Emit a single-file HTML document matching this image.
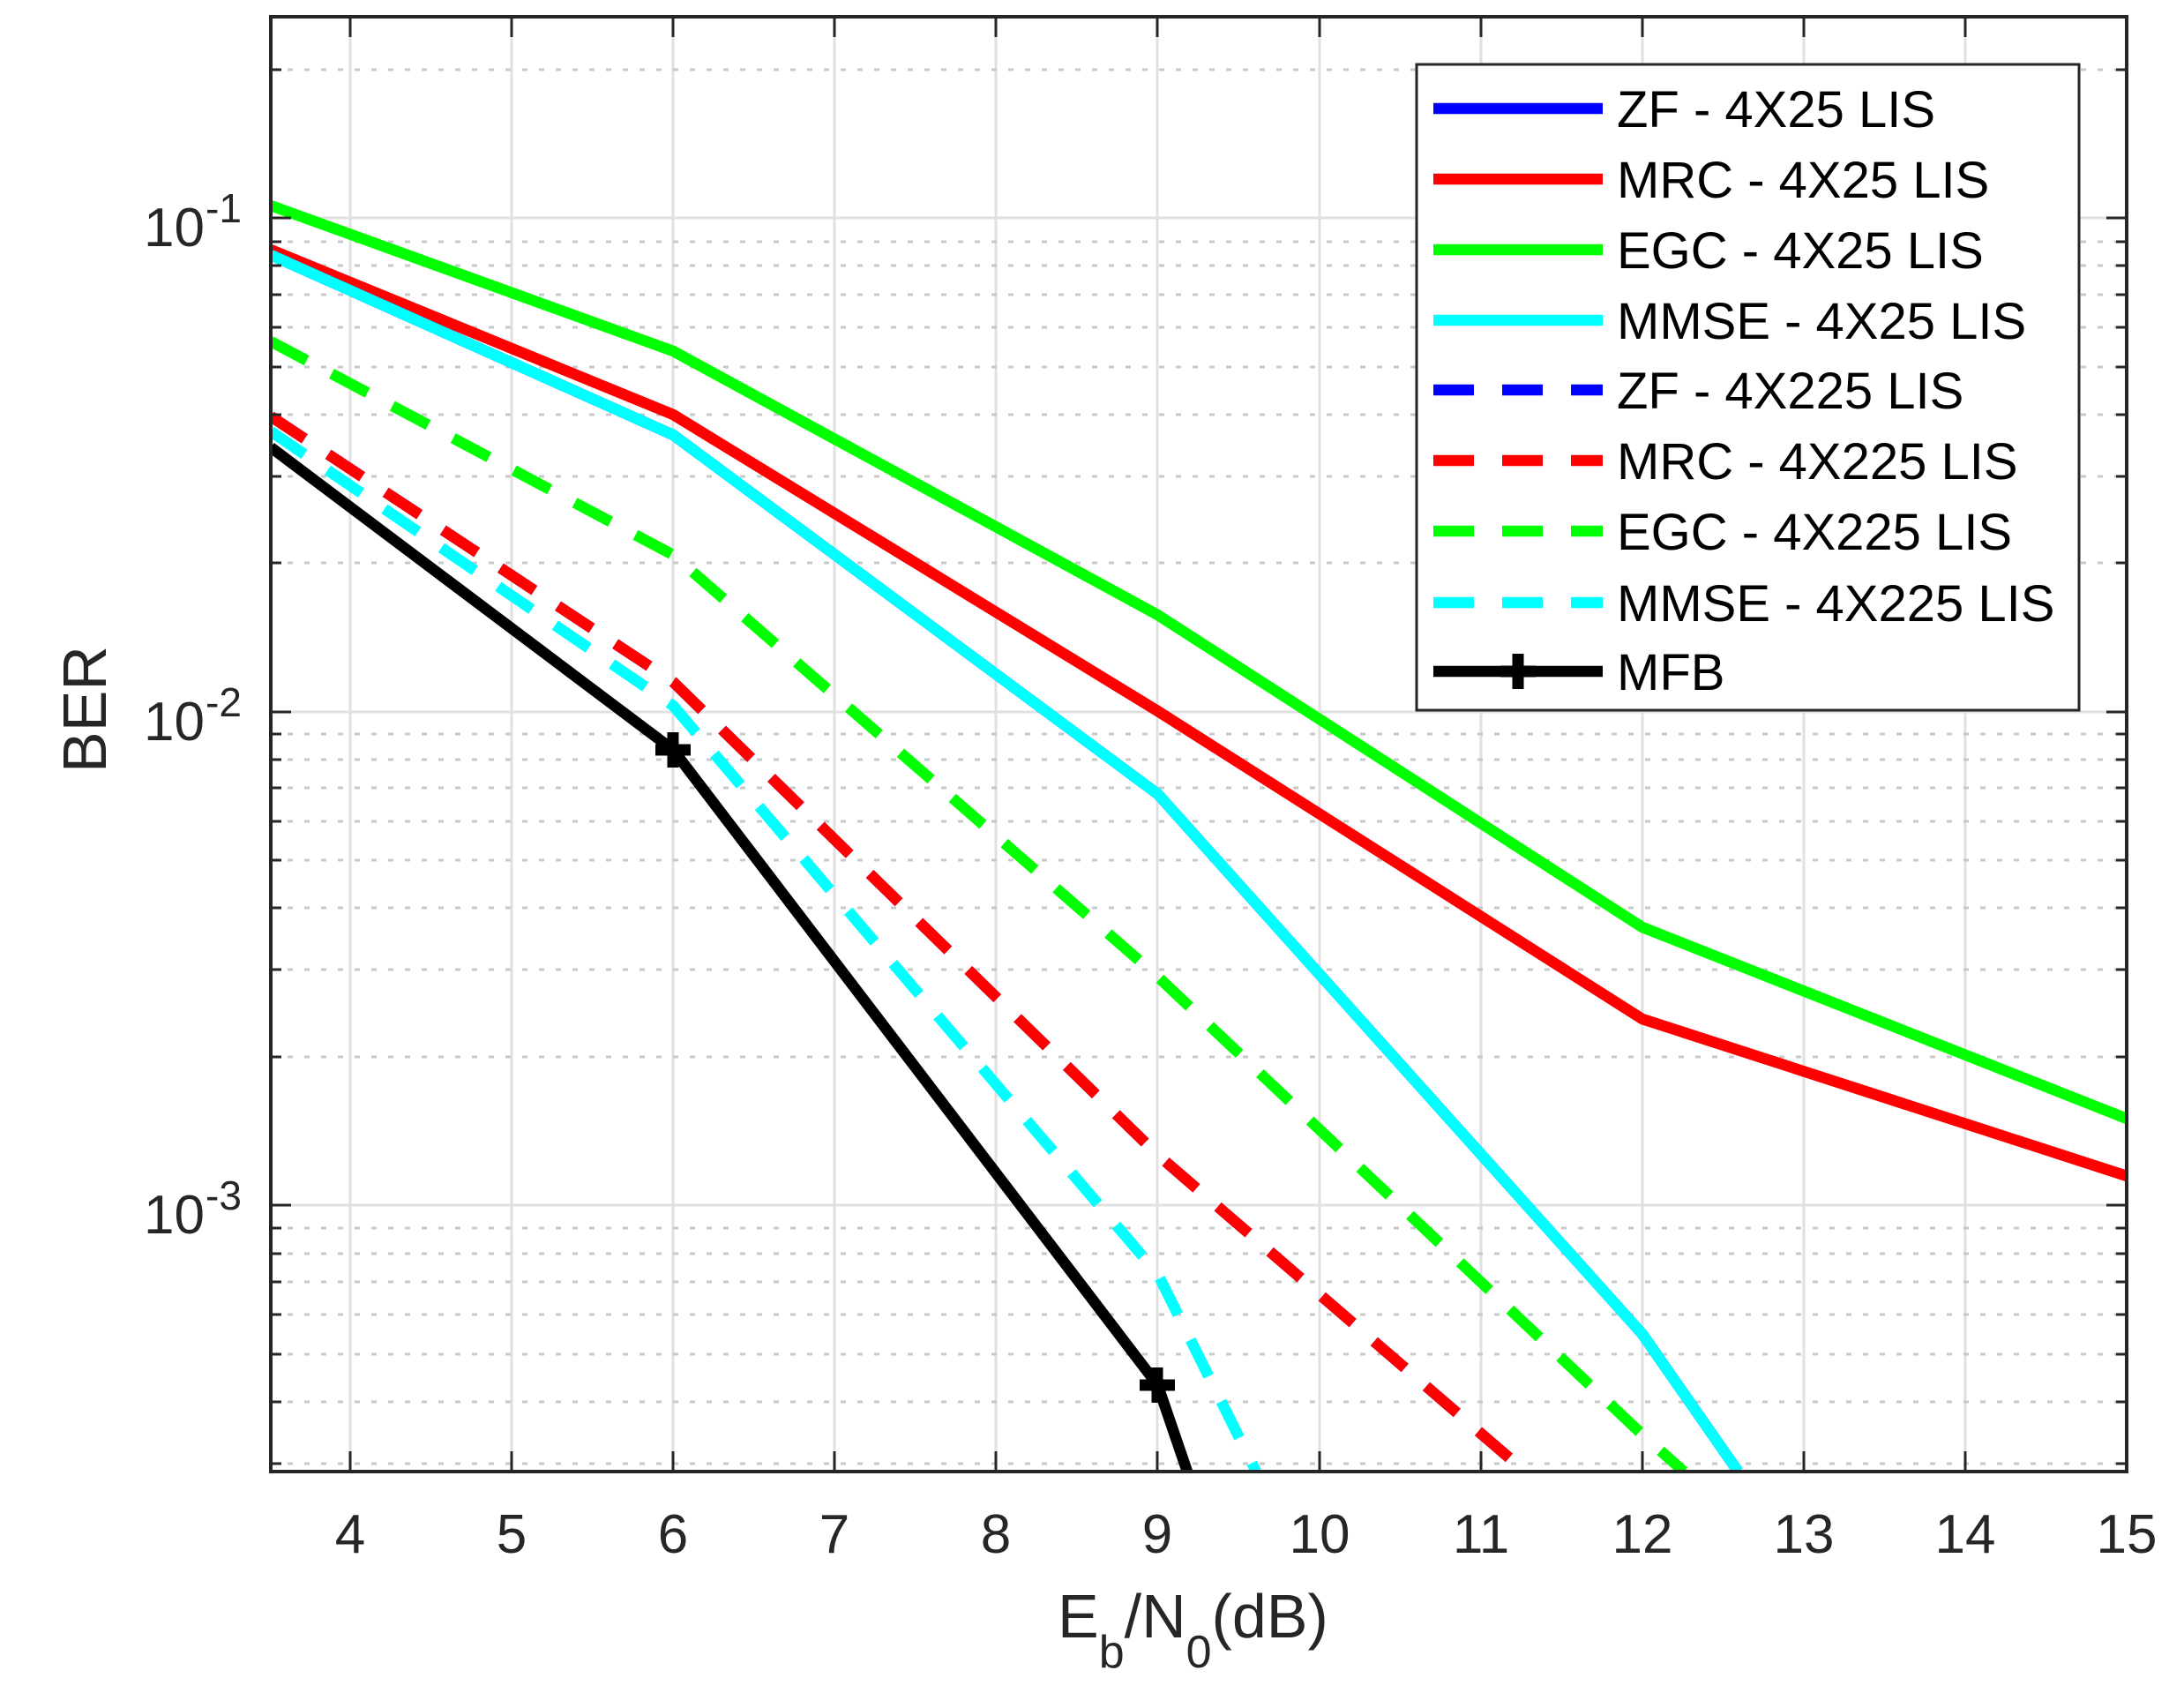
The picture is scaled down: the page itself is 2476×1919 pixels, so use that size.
<!DOCTYPE html>
<html><head><meta charset="utf-8"><style>
html,body{margin:0;padding:0;background:#fff;overflow:hidden;width:2476px;height:1919px}
svg{display:block}
text{font-family:"Liberation Sans",Arial,sans-serif;fill:#262626}
</style></head><body>
<svg width="2476" height="1919" viewBox="0 0 2476 1919" xmlns="http://www.w3.org/2000/svg">
<defs><clipPath id="c"><rect x="307" y="19" width="2104" height="1649"/></clipPath></defs>
<rect x="307" y="19" width="2104" height="1649" fill="#fff"/>
<g stroke="#e0e0e0" stroke-width="3">
<path d="M397 19V1668M580 19V1668M763 19V1668M946 19V1668M1129 19V1668M1312 19V1668M1496 19V1668M1679 19V1668M1862 19V1668M2045 19V1668M2228 19V1668"/>
<path d="M307 247H2411M307 807H2411M307 1366H2411"/>
</g>
<g stroke="#c8c8c8" stroke-width="3" stroke-dasharray="6 13">
<path d="M307 79H2411M307 638H2411M307 540H2411M307 470H2411M307 416H2411M307 371H2411M307 334H2411M307 301H2411M307 274H2411M307 1198H2411M307 1099H2411M307 1029H2411M307 975H2411M307 931H2411M307 893H2411M307 861H2411M307 832H2411M307 1659H2411M307 1589H2411M307 1535H2411M307 1490H2411M307 1453H2411M307 1421H2411M307 1392H2411"/>
</g>
<g clip-path="url(#c)" fill="none" stroke-width="12.5" stroke-linejoin="round">
<polyline stroke="#00ff00" points="307,233 763.2,398 1312.5,697 1861.8,1051 2411.1,1268"/>
<polyline stroke="#ff0000" points="307,283 763.2,470 1312.5,806 1861.8,1155 2411.1,1333"/>
<polyline stroke="#0000ff" points="307,289 763.2,493 1312.5,900 1861.8,1512 1970.5,1668"/>
<polyline stroke="#00ffff" points="307,289 763.2,493 1312.5,900 1861.8,1512 1970.5,1668"/>
<g stroke-dasharray="46 32" stroke-linejoin="miter">
<polyline stroke="#00ff00" points="307,387 763.2,629 1312.5,1107 1861.8,1626 1909,1668"/>
<polyline stroke="#0000ff" points="307,472 763.2,773 1312.5,1309 1729,1668"/>
<polyline stroke="#ff0000" points="307,472 763.2,773 1312.5,1309 1729,1668"/>
<polyline stroke="#00ffff" points="307,489 763.2,800 1312.5,1444 1424,1668"/>
</g>
<polyline stroke="#000" points="307,507 763.2,850 1312.5,1570 1346,1668"/>
<path stroke="#000" stroke-width="13" d="M743 850H783M763 830V870M1292 1570H1332M1312 1550V1590"/>
</g>
<rect x="307" y="19" width="2104" height="1649" fill="none" stroke="#262626" stroke-width="4"/>
<g stroke="#262626" stroke-width="3">
<path d="M397 1668v-23M580 1668v-23M763 1668v-23M946 1668v-23M1129 1668v-23M1312 1668v-23M1496 1668v-23M1679 1668v-23M1862 1668v-23M2045 1668v-23M2228 1668v-23M2411 1668v-23"/>
<path d="M397 19v23M580 19v23M763 19v23M946 19v23M1129 19v23M1312 19v23M1496 19v23M1679 19v23M1862 19v23M2045 19v23M2228 19v23"/>
<path d="M307 247h23M307 807h23M307 1366h23M2411 247h-23M2411 807h-23M2411 1366h-23"/>
<path d="M307 79h12M307 638h12M307 540h12M307 470h12M307 416h12M307 371h12M307 334h12M307 301h12M307 274h12M307 1198h12M307 1099h12M307 1029h12M307 975h12M307 931h12M307 893h12M307 861h12M307 832h12M307 1659h12M307 1589h12M307 1535h12M307 1490h12M307 1453h12M307 1421h12M307 1392h12"/>
<path d="M2411 79h-12M2411 638h-12M2411 540h-12M2411 470h-12M2411 416h-12M2411 371h-12M2411 334h-12M2411 301h-12M2411 274h-12M2411 1198h-12M2411 1099h-12M2411 1029h-12M2411 975h-12M2411 931h-12M2411 893h-12M2411 861h-12M2411 832h-12M2411 1659h-12M2411 1589h-12M2411 1535h-12M2411 1490h-12M2411 1453h-12M2411 1421h-12M2411 1392h-12"/>
</g>
<g font-size="62" text-anchor="middle">
<text x="397" y="1760">4</text><text x="580" y="1760">5</text><text x="763" y="1760">6</text><text x="946" y="1760">7</text><text x="1129" y="1760">8</text><text x="1312" y="1760">9</text><text x="1496" y="1760">10</text><text x="1679" y="1760">11</text><text x="1862" y="1760">12</text><text x="2045" y="1760">13</text><text x="2228" y="1760">14</text><text x="2411" y="1760">15</text>
</g>
<g font-size="62">
<text x="232" y="279" text-anchor="end">10</text><text x="233" y="252" font-size="46">-1</text>
<text x="232" y="839" text-anchor="end">10</text><text x="233" y="812" font-size="46">-2</text>
<text x="232" y="1398" text-anchor="end">10</text><text x="233" y="1371" font-size="46">-3</text>
</g>
<text x="1199" y="1856" font-size="70">E<tspan font-size="52" dy="34">b</tspan><tspan dy="-34">/N</tspan><tspan font-size="52" dy="34">0</tspan><tspan dy="-34">(dB)</tspan></text>
<text transform="translate(120,804) rotate(-90)" font-size="70" text-anchor="middle">BER</text>
<rect x="1606" y="73" width="751" height="732" fill="#fff" stroke="#262626" stroke-width="3"/>
<g stroke-width="12.5" fill="none">
<path stroke="#0000ff" d="M1625 123H1817"/>
<path stroke="#ff0000" d="M1625 203H1817"/>
<path stroke="#00ff00" d="M1625 283H1817"/>
<path stroke="#00ffff" d="M1625 363H1817"/>
<g stroke-dasharray="46 32">
<path stroke="#0000ff" d="M1625 442H1817"/>
<path stroke="#ff0000" d="M1625 522H1817"/>
<path stroke="#00ff00" d="M1625 602H1817"/>
<path stroke="#00ffff" d="M1625 683H1817"/>
</g>
<path stroke="#000" d="M1625 761H1817"/>
<path stroke="#000" stroke-width="13" d="M1721 741V781M1701 761H1741"/>
</g>
<g font-size="58">
<text x="1833" y="144" style="fill:#000">ZF - 4X25 LIS</text>
<text x="1833" y="224" style="fill:#000">MRC - 4X25 LIS</text>
<text x="1833" y="304" style="fill:#000">EGC - 4X25 LIS</text>
<text x="1833" y="384" style="fill:#000">MMSE - 4X25 LIS</text>
<text x="1833" y="463" style="fill:#000">ZF - 4X225 LIS</text>
<text x="1833" y="543" style="fill:#000">MRC - 4X225 LIS</text>
<text x="1833" y="623" style="fill:#000">EGC - 4X225 LIS</text>
<text x="1833" y="704" style="fill:#000">MMSE - 4X225 LIS</text>
<text x="1833" y="782" style="fill:#000">MFB</text>
</g>
</svg>
</body></html>
